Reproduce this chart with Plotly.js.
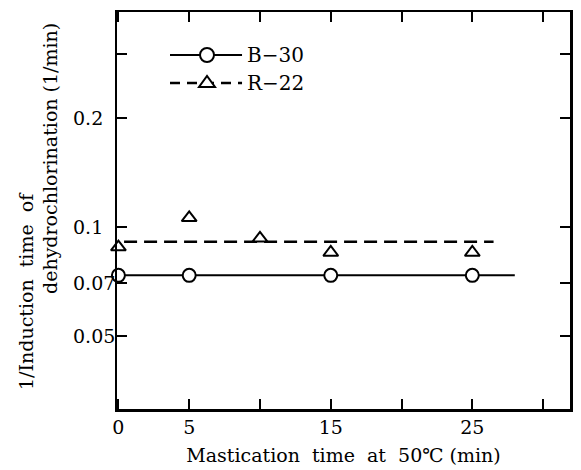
<!DOCTYPE html>
<html>
<head>
<meta charset="utf-8">
<script src="https://cdn.plot.ly/plotly-3.0.1.min.js"></script>
<style>
  html, body { margin: 0; padding: 0; background: #ffffff; }
  #chart { width: 581px; height: 470px; }
</style>
</head>
<body>
<div id="chart"></div>
<script>
// Mastication time (min) at 50 °C
var b30Time = [0, 5, 15, 25];
var b30Rate = [0.0735, 0.0735, 0.0735, 0.0735];
var r22Time = [0, 5, 10, 15, 25];
var r22Rate = [0.088, 0.106, 0.093, 0.085, 0.085];

// mean levels drawn through each series
var b30MeanTime = [0, 28];
var b30MeanRate = [0.0735, 0.0735];
var r22MeanTime = [0.4, 26.5];
var r22MeanRate = [0.091, 0.091];

// axis ticks
var xTickVals = [0, 5, 10, 15, 20, 25, 30];
var xTickText = ['0', '5', '', '15', '', '25', ''];
var yTickVals = [0.05, 0.07, 0.1, 0.2, 0.3];
var yLabelVals = [0.05, 0.07, 0.1, 0.2];
var yLabelText = ['0.05', '0.07', '0.1', '0.2'];

var seriesNames = ['B\u221230', 'R\u221222'];

var FONT = 'DejaVu Serif';

var traces = [
  {
    x: b30MeanTime, y: b30MeanRate, mode: 'lines', showlegend: false,
    line: {color: '#000', width: 2}
  },
  {
    x: r22MeanTime, y: r22MeanRate, mode: 'lines', showlegend: false,
    line: {color: '#000', width: 2.5, dash: '13px,7px'}
  },
  {
    x: b30Time, y: b30Rate, mode: 'markers', name: seriesNames[0], showlegend: false,
    cliponaxis: false,
    marker: {symbol: 'circle', size: 13, color: '#fff', line: {color: '#000', width: 2}}
  },
  {
    x: r22Time, y: r22Rate, mode: 'markers', name: seriesNames[1], showlegend: false,
    cliponaxis: false,
    marker: {symbol: 'triangle-up', size: 13, color: '#fff', line: {color: '#000', width: 2}}
  }
];

// legend key, drawn in paper space
var keyX0 = 0.117, keyX1 = 0.276, keyXm = 0.1987;
var keyY = [0.8917, 0.8212];

var shapes = [
  {type: 'line', xref: 'paper', yref: 'paper', x0: keyX0, x1: keyX1, y0: keyY[0], y1: keyY[0],
   line: {color: '#000', width: 2}},
  {type: 'circle', xref: 'paper', yref: 'paper', xsizemode: 'pixel', ysizemode: 'pixel',
   xanchor: keyXm, yanchor: keyY[0], x0: -7, x1: 7, y0: -7, y1: 7,
   fillcolor: '#fff', line: {color: '#000', width: 2}},
  {type: 'line', xref: 'paper', yref: 'paper', x0: keyX0, x1: keyX1, y0: keyY[1], y1: keyY[1],
   line: {color: '#000', width: 2.5, dash: '10px,7px'}},
  {type: 'path', xref: 'paper', yref: 'paper', xsizemode: 'pixel', ysizemode: 'pixel',
   xanchor: keyXm, yanchor: keyY[1], path: 'M-8,-4L8,-4L0,7Z',
   fillcolor: '#fff', line: {color: '#000', width: 2}}
];

var annotations = [];
seriesNames.forEach(function (nm, i) {
  annotations.push({
    xref: 'paper', yref: 'paper', x: keyX1, y: keyY[i], xshift: 3,
    xanchor: 'left', yanchor: 'middle', showarrow: false, text: nm,
    font: {family: FONT, size: 20, color: '#000'}
  });
});

// y tick labels, left aligned as in the printed figure
yLabelVals.forEach(function (v, i) {
  annotations.push({
    xref: 'paper', yref: 'y', x: 0, xshift: -46, y: Math.log10(v),
    xanchor: 'left', yanchor: 'middle', showarrow: false, text: yLabelText[i],
    font: {family: FONT, size: 19, color: '#000'}
  });
});

// two-line y-axis title
annotations.push({
  xref: 'paper', yref: 'paper', x: -0.2009, y: 0.2972, textangle: -90,
  xanchor: 'center', yanchor: 'middle', showarrow: false,
  text: '1/Induction\u00a0 time\u00a0 of',
  font: {family: FONT, size: 19, color: '#000'}
});
annotations.push({
  xref: 'paper', yref: 'paper', x: -0.1479, y: 0.6297, textangle: -90,
  xanchor: 'center', yanchor: 'middle', showarrow: false,
  text: 'dehydrochlorination (1/min)',
  font: {family: FONT, size: 19, color: '#000'}
});

var layout = {
  width: 581, height: 470,
  margin: {l: 117, r: 11, t: 12, b: 61},
  paper_bgcolor: '#fff', plot_bgcolor: '#fff',
  showlegend: false,
  xaxis: {
    range: [-0.1, 31.9],
    tickvals: xTickVals, ticktext: xTickText,
    ticks: 'inside', ticklen: 10, tickwidth: 2, tickcolor: '#000',
    showline: true, linewidth: 2.5, linecolor: '#000', mirror: 'ticks',
    showgrid: false, zeroline: false,
    tickfont: {family: FONT, size: 19, color: '#000'},
    title: {
      text: 'Mastication\u00a0 time\u00a0 at\u00a0 50\u2103 (min)',
      font: {family: FONT, size: 19, color: '#000'},
      standoff: 12
    }
  },
  yaxis: {
    type: 'log',
    range: [-1.503, -0.406],
    tickvals: yTickVals,
    showticklabels: false,
    ticks: 'inside', ticklen: 10, tickwidth: 2, tickcolor: '#000',
    showline: true, linewidth: 2.5, linecolor: '#000', mirror: 'ticks',
    showgrid: false, zeroline: false
  },
  shapes: shapes,
  annotations: annotations
};

Plotly.newPlot('chart', traces, layout, {staticPlot: true, displayModeBar: false});
</script>
</body>
</html>
